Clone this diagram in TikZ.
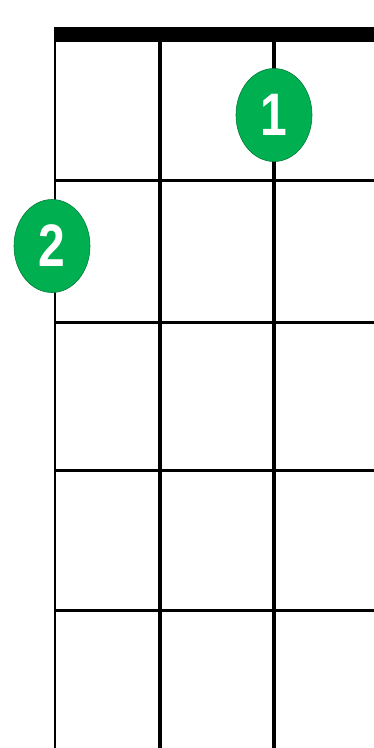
\documentclass[tikz,border=0pt]{standalone}
\usepackage{fontspec}
\setmainfont{Liberation Sans}
\usetikzlibrary{shapes.geometric}
\definecolor{dotgreen}{RGB}{0,176,80}
\tikzset{
  fret/.style={line width=3pt, black},
  stringthin/.style={line width=2.2pt, black},
  stringthick/.style={line width=4pt, black},
  nutbar/.style={line width=15pt, black},
  finger/.style={ellipse, fill=dotgreen, draw=dotgreen!70!black, line width=0.6pt,
    minimum width=76pt, minimum height=93pt, inner sep=0pt,
    text=white, font=\fontsize{60}{60}\selectfont\bfseries}
}
\begin{document}
\begin{tikzpicture}[x=1pt,y=1pt]
\useasboundingbox (0,0) rectangle (374,-748);
\fill[white] (0,0) rectangle (374,-748);
% frets
\foreach \y in {180,322,470,610} \draw[fret] (55,-\y) -- (374,-\y);
% strings
\draw[stringthin] (55,-34) -- (55,-748);
\draw[stringthick] (160,-34) -- (160,-748);
\draw[stringthick] (274,-34) -- (274,-748);
% nut
\draw[nutbar] (54,-34.5) -- (374,-34.5);
% finger dots
\node[finger] (f1) at (274,-115) {\scalebox{0.8}[1]{1}};
\node[finger] (f2) at (52,-246) {\scalebox{0.8}[1]{2}};
\end{tikzpicture}
\end{document}
